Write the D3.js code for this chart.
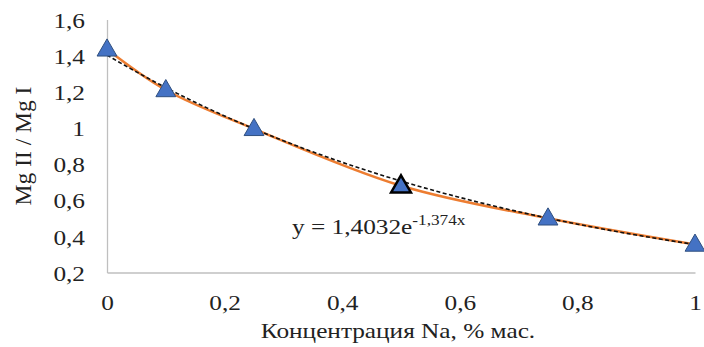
<!DOCTYPE html>
<html><head><meta charset="utf-8">
<script src="https://cdn.jsdelivr.net/npm/d3@7"></script>
<style>body{margin:0;background:#fff}svg{display:block}</style>
</head><body>
<svg id="c" width="704" height="347"></svg>
<script>
const xValues = [0, 0.1, 0.25, 0.5, 0.75, 1];
const yValues = [1.435, 1.21, 0.995, 0.68, 0.5, 0.355];
const xTicks = [0, 0.2, 0.4, 0.6, 0.8, 1];
const yTicks = [0.2, 0.4, 0.6, 0.8, 1, 1.2, 1.4, 1.6];
const fitA = 1.4032, fitB = -1.374;
const xTitle = "Концентрация Na, % мас.";
const yTitle = "Mg II / Mg I";

const FONT = "Liberation Serif";
const SX = 1.15; // horizontal stretch of text seen in the reference
const svg = d3.select("#c");
const m = {l:107, r:704-695, t:19.5, b:347-272.5};
const W = 704, H = 347;
const x = d3.scaleLinear().domain([0,1]).range([m.l, W-m.r]);
const y = d3.scaleLinear().domain([0.2,1.6]).range([H-m.b, m.t]);
const fmt = d => String(d).replace(".", ",");

// axes
const gx = svg.append("g").attr("transform",`translate(0,${y(0.2)})`)
  .call(d3.axisBottom(x).tickValues(xTicks).tickSize(0).tickPadding(22).tickFormat(fmt));
const gy = svg.append("g").attr("transform",`translate(${x(0)},0)`)
  .call(d3.axisLeft(y).tickValues(yTicks).tickSize(0).tickPadding(22).tickFormat(fmt));
[gx,gy].forEach(g=>{
  g.attr("font-family",FONT);
  g.select(".domain").attr("stroke","#bfbfbf").attr("stroke-width",1.3);
  g.selectAll("text").attr("font-family",FONT).attr("font-size",22).attr("fill","#222");
});
gy.selectAll("text").attr("x",0).attr("dy","0.35em").attr("transform",`translate(-22,0) scale(${SX},1)`);
gx.selectAll("text").attr("y",0).attr("dy","0.71em").attr("transform",`translate(0,22) scale(${SX},1)`);

// smooth series line
const line = d3.line().x((d,i)=>x(xValues[i])).y(d=>y(d)).curve(d3.curveCatmullRom.alpha(0.5));
svg.append("path").datum(yValues).attr("d",line).attr("fill","none")
  .attr("stroke","#ED7D31").attr("stroke-width",2.5);

// exponential trendline
const xs = d3.range(0,1.0001,0.01);
svg.append("path").datum(xs)
  .attr("d", d3.line().x(d=>x(d)).y(d=>y(fitA*Math.exp(fitB*d))))
  .attr("fill","none").attr("stroke","#111").attr("stroke-width",1.6).attr("stroke-dasharray","4,2.5");

// markers
const tri = d3.symbol().type(d3.symbolTriangle).size(170);
svg.selectAll(".m").data(yValues).join("path")
  .attr("d",tri)
  .attr("transform",(d,i)=>`translate(${x(xValues[i])},${y(d)+1})`)
  .attr("fill","#4472C4")
  .attr("stroke",(d,i)=>i===3?"#000":"#2F4F7F")
  .attr("stroke-width",(d,i)=>i===3?2.5:1);

// equation
const eq = svg.append("text").attr("transform",`translate(292,234) scale(${SX},1)`)
  .attr("font-family",FONT).attr("font-size",22).attr("fill","#222");
eq.append("tspan").text("y = 1,4032e");
eq.append("tspan").attr("font-size",15).attr("dy",-9).text("-1,374x");

// titles
svg.append("text").attr("transform",`translate(398,338) scale(${SX},1)`).attr("text-anchor","middle")
  .attr("font-family",FONT).attr("font-size",22).attr("fill","#222").text(xTitle);
svg.append("text").attr("transform","translate(31,146) rotate(-90)").attr("text-anchor","middle")
  .attr("font-family",FONT).attr("font-size",23.5).attr("fill","#222").text(yTitle);
</script>
</body></html>
